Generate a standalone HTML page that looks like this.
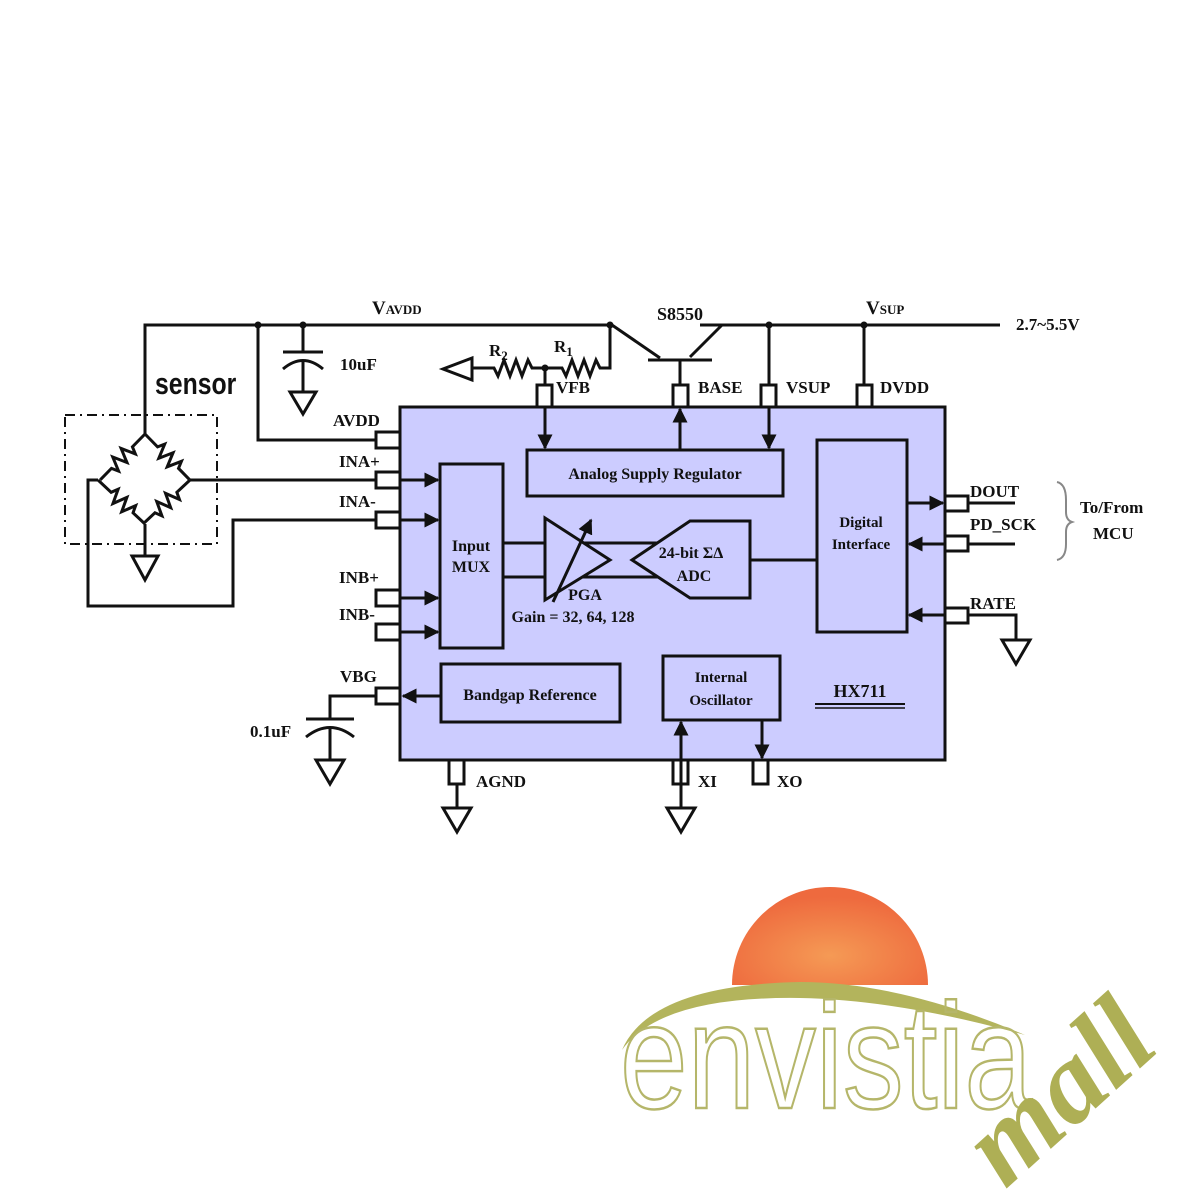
<!DOCTYPE html>
<html><head><meta charset="utf-8"><style>
html,body{margin:0;padding:0;background:#fff;}
svg{display:block;}
text{font-family:"Liberation Serif",serif;font-weight:bold;fill:#111;}
</style></head><body>
<svg width="1200" height="1200" viewBox="0 0 1200 1200" xmlns="http://www.w3.org/2000/svg">
<defs>
<marker id="ar" viewBox="0 0 10 10" refX="9" refY="5" markerWidth="5" markerHeight="5" orient="auto-start-reverse"><path d="M0,0 L10,5 L0,10 z" fill="#111"/></marker>
<radialGradient id="sun" cx="0.5" cy="0.7" r="0.6"><stop offset="0" stop-color="#f59a55"/><stop offset="1" stop-color="#ee6a3e"/></radialGradient>
<path id="res" d="M0,0 L18,0 l3,-7 l6,14 l6,-14 l6,14 l6,-14 l3,7 L64,0" fill="none" stroke="#111" stroke-width="3"/>
</defs>
<g stroke="#111" stroke-width="3" fill="none">
<rect x="400" y="407" width="545" height="353" fill="#ccccff"/>
<polyline points="145,434 145,325 612,325 660,358"/>
<polyline points="700,325 1000,325"/>
<line x1="690" y1="357" x2="722" y2="325"/>
<line x1="648" y1="360" x2="712" y2="360"/>
<line x1="680" y1="360" x2="680" y2="385"/>
<line x1="769" y1="325" x2="769" y2="385"/>
<line x1="864" y1="325" x2="864" y2="385"/>
<polyline points="610,325 610,368 600,368 596,360 590,376 584,360 578,376 572,360 566,376 562,368 545,368 532,368 528,360 522,376 516,360 510,376 504,360 498,376 494,368 472,368"/>
<polygon points="472,358 472,380 443,369"/>
<line x1="545" y1="368" x2="545" y2="385"/>
<line x1="303" y1="325" x2="303" y2="352"/>
<line x1="283" y1="352" x2="323" y2="352"/>
<path d="M283,369 Q303,352 323,369"/>
<line x1="303" y1="360" x2="303" y2="392"/>
<polygon points="290,392 316,392 303,414"/>
<polyline points="258,325 258,440 376,440"/>
<line x1="190" y1="480" x2="376" y2="480"/>
<polyline points="98,480 88,480 88,606 233,606 233,520 376,520"/>
<line x1="145" y1="524" x2="145" y2="556"/>
<polygon points="132,556 158,556 145,580"/>
<rect x="65" y="415" width="152" height="129" stroke-width="2" stroke-dasharray="10,5,2,5"/>
<rect x="376" y="432" width="24" height="16" fill="#fff"/>
<rect x="376" y="472" width="24" height="16" fill="#fff"/>
<rect x="376" y="512" width="24" height="16" fill="#fff"/>
<rect x="376" y="590" width="24" height="16" fill="#fff"/>
<rect x="376" y="624" width="24" height="16" fill="#fff"/>
<rect x="376" y="688" width="24" height="16" fill="#fff"/>
<line x1="400" y1="480" x2="438" y2="480" marker-end="url(#ar)"/>
<line x1="400" y1="520" x2="438" y2="520" marker-end="url(#ar)"/>
<line x1="400" y1="598" x2="438" y2="598" marker-end="url(#ar)"/>
<line x1="400" y1="632" x2="438" y2="632" marker-end="url(#ar)"/>
<polyline points="376,696 330,696 330,719"/>
<line x1="306" y1="719" x2="354" y2="719"/>
<path d="M306,737 Q330,718 354,737"/>
<line x1="330" y1="728" x2="330" y2="760"/>
<polygon points="316,760 344,760 330,784"/>
<rect x="537" y="385" width="15" height="22" fill="#fff"/>
<rect x="673" y="385" width="15" height="22" fill="#fff"/>
<rect x="761" y="385" width="15" height="22" fill="#fff"/>
<rect x="857" y="385" width="15" height="22" fill="#fff"/>
<line x1="545" y1="407" x2="545" y2="448" marker-end="url(#ar)"/>
<line x1="680" y1="450" x2="680" y2="409" marker-end="url(#ar)"/>
<line x1="769" y1="407" x2="769" y2="448" marker-end="url(#ar)"/>
<rect x="527" y="450" width="256" height="46"/>
<rect x="440" y="464" width="63" height="184"/>
<rect x="817" y="440" width="90" height="192"/>
<rect x="441" y="664" width="179" height="58"/>
<rect x="663" y="656" width="117" height="64"/>
<line x1="503" y1="543" x2="662" y2="543"/>
<line x1="503" y1="577" x2="662" y2="577"/>
<polygon points="545,518 610,560 545,600" fill="#ccccff"/>
<polygon points="632,560 690,521 750,521 750,598 690,598" fill="#ccccff"/>
<line x1="553" y1="602" x2="591" y2="520" marker-end="url(#ar)"/>
<line x1="750" y1="560" x2="817" y2="560"/>
<line x1="441" y1="696" x2="403" y2="696" marker-end="url(#ar)"/>
<rect x="945" y="496" width="23" height="15" fill="#fff"/>
<rect x="945" y="536" width="23" height="15" fill="#fff"/>
<rect x="945" y="608" width="23" height="15" fill="#fff"/>
<line x1="907" y1="503" x2="943" y2="503" marker-end="url(#ar)"/>
<line x1="945" y1="544" x2="909" y2="544" marker-end="url(#ar)"/>
<line x1="945" y1="615" x2="909" y2="615" marker-end="url(#ar)"/>
<line x1="968" y1="503" x2="1015" y2="503"/>
<line x1="968" y1="544" x2="1015" y2="544"/>
<polyline points="968,615 1016,615 1016,640"/>
<polygon points="1002,640 1030,640 1016,664"/>
<path d="M1057,482 Q1066,484 1066,500 L1066,512 Q1066,520 1072,522 Q1066,524 1066,532 L1066,544 Q1066,558 1057,560" stroke="#888" stroke-width="2"/>
<rect x="449" y="760" width="15" height="24" fill="#fff"/>
<rect x="673" y="760" width="15" height="24" fill="#fff"/>
<rect x="753" y="760" width="15" height="24" fill="#fff"/>
<line x1="457" y1="784" x2="457" y2="808"/>
<polygon points="443,808 471,808 457,832"/>
<line x1="681" y1="808" x2="681" y2="722" marker-end="url(#ar)"/>
<polygon points="667,808 695,808 681,832"/>
<line x1="762" y1="720" x2="762" y2="758" marker-end="url(#ar)"/>
<line x1="815" y1="704" x2="905" y2="704" stroke-width="2"/>
<line x1="815" y1="708" x2="905" y2="708" stroke-width="1.5"/>
</g>
<!-- bridge resistors -->
<use href="#res" transform="translate(145 434) rotate(45.7)"/>
<use href="#res" transform="translate(145 434) rotate(134.3)"/>
<use href="#res" transform="translate(98 480) rotate(43.1)"/>
<use href="#res" transform="translate(190 480) rotate(136.9)"/>
<g fill="#111">
<circle cx="258" cy="325" r="3.5"/><circle cx="303" cy="325" r="3.5"/>
<circle cx="610" cy="325" r="3.5"/><circle cx="545" cy="368" r="3.5"/>
<circle cx="769" cy="325" r="3.5"/><circle cx="864" cy="325" r="3.5"/>
</g>
<g font-size="17">
<text x="372" y="314" font-size="19">V<tspan font-size="13">AVDD</tspan></text>
<text x="657" y="320" font-size="18">S8550</text>
<text x="866" y="314" font-size="19">V<tspan font-size="13">SUP</tspan></text>
<text x="1016" y="330">2.7~5.5V</text>
<text x="340" y="370">10uF</text>
<text x="489" y="356">R<tspan font-size="13" dy="4">2</tspan></text>
<text x="554" y="352">R<tspan font-size="13" dy="4">1</tspan></text>
<text x="556" y="393">VFB</text>
<text x="698" y="393">BASE</text>
<text x="786" y="393">VSUP</text>
<text x="880" y="393">DVDD</text>
<text x="333" y="426">AVDD</text>
<text x="339" y="467">INA+</text>
<text x="339" y="507">INA-</text>
<text x="339" y="583">INB+</text>
<text x="339" y="620">INB-</text>
<text x="340" y="682">VBG</text>
<text x="250" y="737">0.1uF</text>
<text x="476" y="787">AGND</text>
<text x="698" y="787">XI</text>
<text x="777" y="787">XO</text>
<text x="970" y="497">DOUT</text>
<text x="970" y="530">PD_SCK</text>
<text x="970" y="609">RATE</text>
<text x="1080" y="513">To/From</text>
<text x="1093" y="539">MCU</text>
<text x="655" y="479" font-size="16" text-anchor="middle">Analog Supply Regulator</text>
<text x="471" y="551" font-size="16" text-anchor="middle">Input</text>
<text x="471" y="572" font-size="16" text-anchor="middle">MUX</text>
<text x="861" y="527" font-size="15" text-anchor="middle">Digital</text>
<text x="861" y="549" font-size="15" text-anchor="middle">Interface</text>
<text x="691" y="558" font-size="16" text-anchor="middle">24-bit ΣΔ</text>
<text x="694" y="581" font-size="16" text-anchor="middle">ADC</text>
<text x="585" y="600" font-size="16" text-anchor="middle">PGA</text>
<text x="573" y="622" font-size="16" text-anchor="middle">Gain = 32, 64, 128</text>
<text x="530" y="700" font-size="16" text-anchor="middle">Bandgap Reference</text>
<text x="721" y="682" font-size="15" text-anchor="middle">Internal</text>
<text x="721" y="705" font-size="15" text-anchor="middle">Oscillator</text>
<text x="860" y="697" font-size="18" text-anchor="middle">HX711</text>
</g>
<text x="0" y="0" font-size="31" transform="translate(155 394) scale(0.8 1)" style="font-family:'Liberation Sans',sans-serif;font-weight:bold">sensor</text>
<!-- logo -->
<path d="M732,985 A98,98 0 0 1 928,985 Z" fill="url(#sun)"/>
<path d="M622,1050 Q650,985 800,982 Q900,982 1025,1035 Q900,1000 800,998 Q660,996 622,1050 Z" fill="#b3b45c"/>
<text x="620" y="1108" font-size="150" textLength="412" lengthAdjust="spacingAndGlyphs" style="font-family:'Liberation Sans',sans-serif;font-weight:normal;fill:none;stroke:#b5b66a;stroke-width:2.5">envistia</text>
<text x="0" y="0" font-size="115" transform="translate(1005 1190) rotate(-42)" style="font-family:'Liberation Serif',serif;font-style:italic;font-weight:bold;fill:#aeaf55">mall</text>
</svg>
</body></html>
